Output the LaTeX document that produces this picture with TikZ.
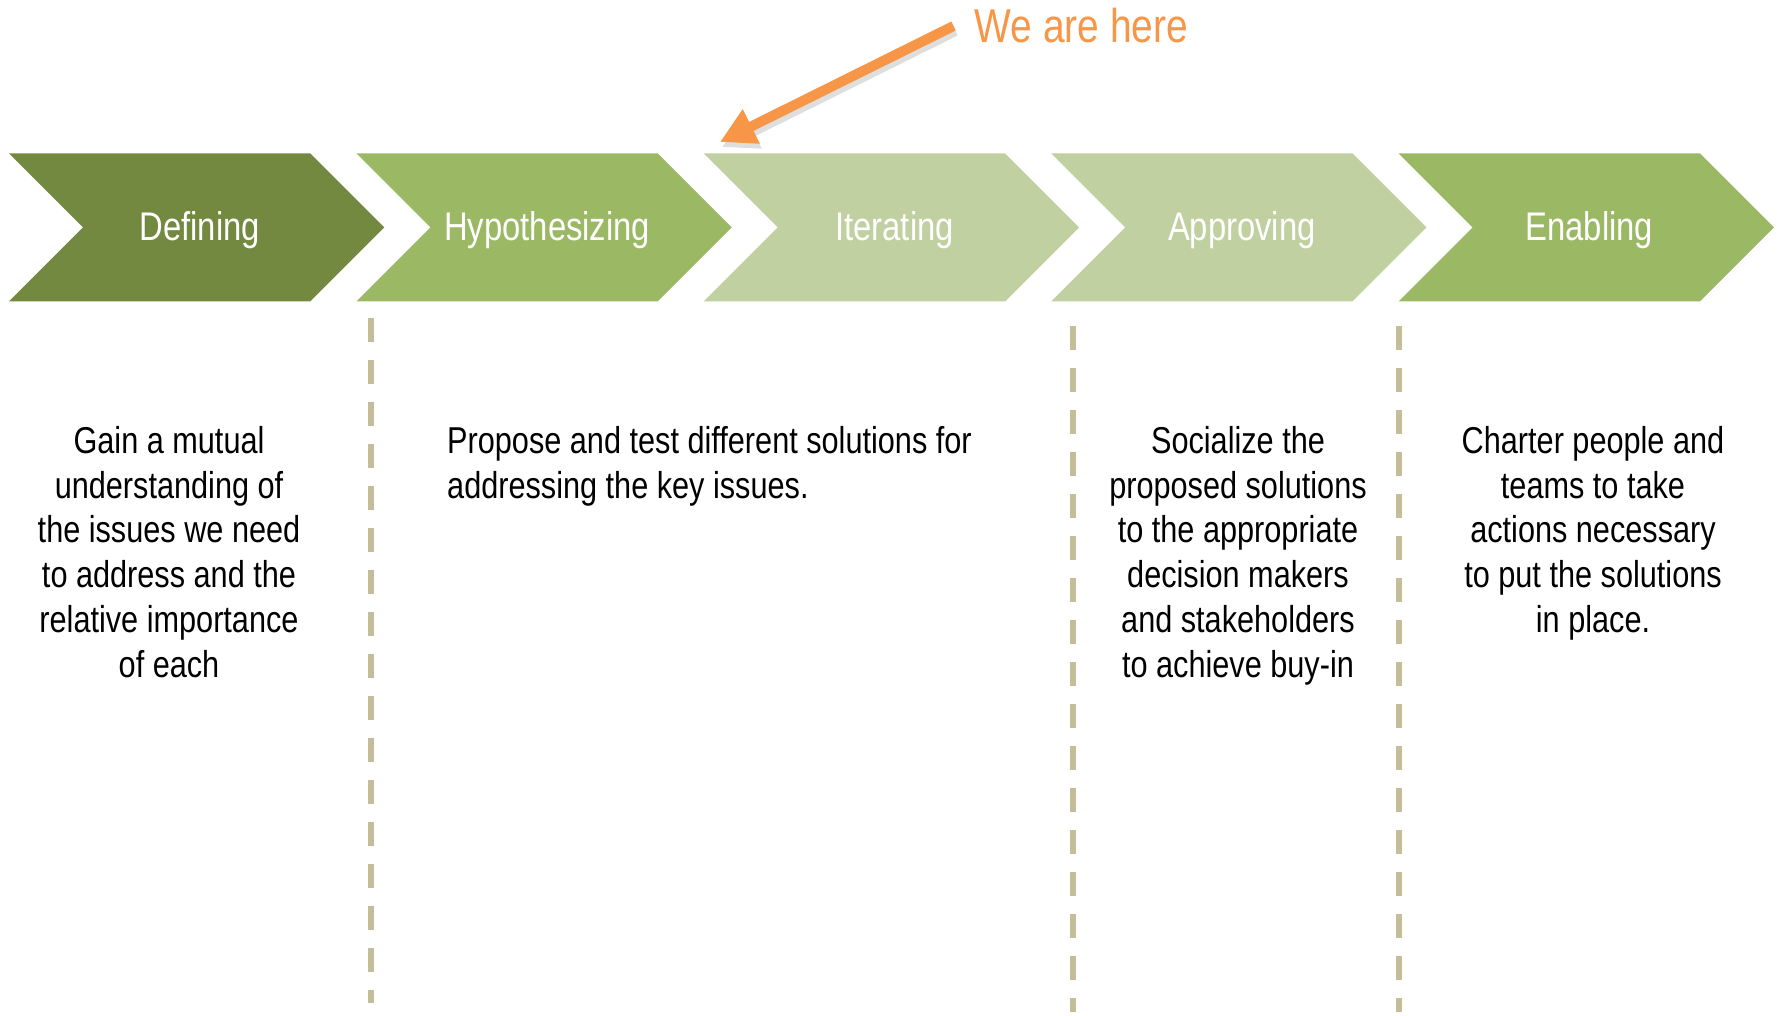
\documentclass[tikz,border=0pt]{standalone}
\usepackage{fontspec}
\setmainfont{Liberation Sans}[FakeStretch=0.82]
\usetikzlibrary{positioning,shapes.symbols,arrows.meta}
\definecolor{olivedark}{HTML}{72893F}
\definecolor{olive}{HTML}{9BB864}
\definecolor{olivelight}{HTML}{C0D0A0}
\definecolor{herecolor}{HTML}{F79646}
\definecolor{divcolor}{HTML}{C4BD97}

\begin{document}
\begin{tikzpicture}[x=1pt, y=-1pt, node distance=347.4pt, phase/.style = {signal, signal from=west, signal to=east, signal pointer angle=90, minimum width=375.2pt, minimum height=147.8pt, inner sep=0pt, draw=none, text=white, font=\fontsize{40}{48}\selectfont, text height=25.5pt, text depth=0pt, execute at begin node=\hspace*{6pt}}]
	\tikzset{desc/.style = {inner sep=0pt, font=\fontsize{37.4}{44.8}\selectfont}}
	\tikzset{divider/.style = {divcolor, line width=6pt, dash pattern=on 24pt off 18pt}}
	\tikzset{pointer/.style = {-{Triangle[length=35pt, width=36pt]}, herecolor, line width=10pt}}
	
	\useasboundingbox (0,0) rectangle (1783,1016);
	
		\node[phase, fill=olivedark] (def) at (196.7,227.4) {Defining};
		\node[phase, fill=olive] (hyp) [right of=def] {Hypothesizing};
		\node[phase, fill=olivelight] (ite) [right of=hyp] {Iterating};
		\node[phase, fill=olivelight] (app) [right of=ite] {Approving};
		\node[phase, fill=olive] (ena) [right of=app] {Enabling};
		
		\draw[divider] (370.7,318) -- (370.7,1003);
		\draw[divider] (1073.4,326) -- (1073.4,1012);
		\draw[divider] (1398.6,326) -- (1398.6,1012);
		
		\node[desc, anchor=north, align=center] (defnote) at (169,426) {Gain a mutual\\understanding of\\the issues we need\\to address and the\\relative importance\\of each};
		\node[desc, anchor=north west, align=left] (hypnote) at (447,426) {Propose and test different solutions for\\addressing the key issues.};
		\node[desc, anchor=north, align=center] (appnote) at (1238,426) {Socialize the\\proposed solutions\\to the appropriate\\decision makers\\and stakeholders\\to achieve buy-in};
		\node[desc, anchor=north, align=center] (enanote) at (1593,426) {Charter people and\\teams to take\\actions necessary\\to put the solutions\\in place.};
		
		\node[anchor=west, inner sep=0pt, text=herecolor, font=\fontsize{47.5}{57}\selectfont, text height=34pt, text depth=0pt] (here) at (974.5,26) {We are here};
		\coordinate (now) at (720,142);
		\draw[pointer, black!13, transform canvas={shift={(2,5)}}] ([xshift=-21pt]here.west) -- (now);
		\draw[pointer] ([xshift=-21pt]here.west) -- (now);
	\end{tikzpicture}
\end{document}
